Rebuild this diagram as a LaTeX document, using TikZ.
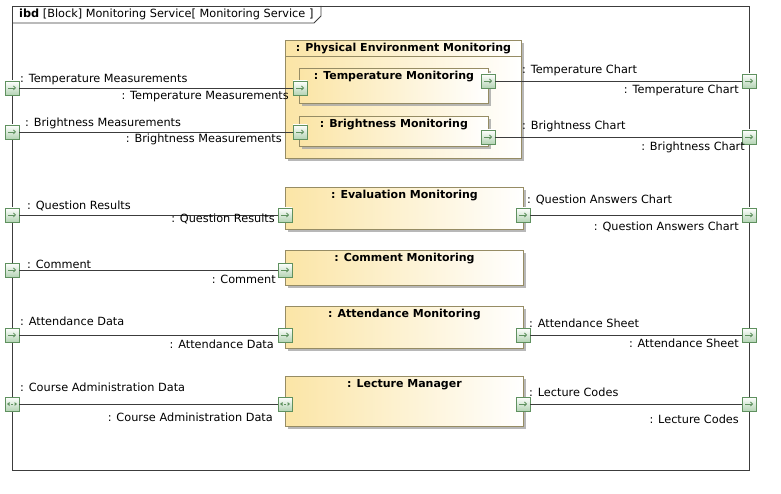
\documentclass[tikz,border=0pt]{standalone}
\usepackage{xcolor}
\usepackage{fontspec}
\setmainfont{DejaVu Sans}
\usetikzlibrary{positioning,shadows,arrows.meta}

\definecolor{blockfill}{RGB}{251,229,166}
\definecolor{blockline}{RGB}{150,140,100}
\definecolor{portline}{RGB}{95,145,95}
\definecolor{portfill}{RGB}{180,212,180}
\definecolor{framegray}{RGB}{60,60,60}

\tikzset{
  lbl/.style={inner sep=0pt, font=\fontsize{11.3}{13}\selectfont},
  ttl/.style={inner sep=1pt, font=\bfseries\fontsize{11}{13}\selectfont},
  block/.style={draw=blockline, line width=0.8pt, left color=blockfill, right color=white, anchor=north west, inner sep=0pt,
    drop shadow={shadow xshift=3pt, shadow yshift=-3pt, fill=black!35, opacity=0.8}},
  port/.style={draw=portline, line width=0.8pt, top color=white, bottom color=portfill, minimum size=14pt, inner sep=0pt},
  inport/.style={port, path picture={\draw[portline, line width=0.8pt, -{Straight Barb[length=2pt,width=4pt]}]
    ([xshift=3pt]path picture bounding box.west) -- ([xshift=-3pt]path picture bounding box.east);}},
  ioport/.style={port, path picture={
    \fill[portline] ([xshift=-5pt]path picture bounding box.center) -- ++(2.5,-2) -- ++(0,4) -- cycle;
    \fill[portline] ([xshift=5pt]path picture bounding box.center) -- ++(-2.5,-2) -- ++(0,4) -- cycle;
    \draw[portline, line width=0.7pt] ([xshift=-1pt]path picture bounding box.center) -- ([xshift=1pt]path picture bounding box.center);}},
  conn/.style={draw=framegray, line width=0.8pt}
}

\begin{document}
\begin{tikzpicture}[x=1pt, y=-1pt]
\useasboundingbox (0,0) rectangle (781,494);

\node[draw=framegray, line width=0.8pt, anchor=north west, minimum width=737pt, minimum height=464pt, inner sep=0pt] (ibd) at (12,6) {};
\node[lbl, anchor=west] (hdr) at (19,14.5) {\textbf{ibd} [Block] Monitoring Service[ Monitoring Service ]};
\draw[framegray, line width=0.8pt] (12,23) -- (314,23) -- (321,16) -- (321,6);

\node[block, minimum width=236pt, minimum height=118pt] (pe) at (285,40) {};
\draw[blockline, line width=0.8pt] ([yshift=-16pt]pe.north west) -- ([yshift=-16pt]pe.north east);
\node[ttl, below=2pt of pe.north] (pet) {: Physical Environment Monitoring};
\node[block, minimum width=189pt, minimum height=35pt] (tm) at (299,68) {};
\node[ttl, below=2pt of tm.north] (tmt) {: Temperature Monitoring};
\node[block, minimum width=189pt, minimum height=30pt] (bm) at (299,116) {};
\node[ttl, below=2pt of bm.north] (bmt) {: Brightness Monitoring};

\node[block, minimum width=238pt, minimum height=42pt] (ev) at (285,187) {};
\node[ttl, below=2pt of ev.north] (evt) {: Evaluation Monitoring};
\node[block, minimum width=238pt, minimum height=35pt] (cm) at (285,250) {};
\node[ttl, below=2pt of cm.north] (cmt) {: Comment Monitoring};
\node[block, minimum width=238pt, minimum height=42pt] (am) at (285,306) {};
\node[ttl, below=2pt of am.north] (amt) {: Attendance Monitoring};
\node[block, minimum width=238pt, minimum height=50pt] (lm) at (285,376) {};
\node[ttl, below=2pt of lm.north] (lmt) {: Lecture Manager};

\node[inport] (fTm) at (12,88) {};
\node[inport] (fBm) at (12,132) {};
\node[inport] (fQr) at (12,215) {};
\node[inport] (fCm) at (12,270) {};
\node[inport] (fAd) at (12,335) {};
\node[ioport] (fCa) at (12,404) {};

\node[inport] (fTc) at (749,81) {};
\node[inport] (fBc) at (749,137) {};
\node[inport] (fQa) at (749,215) {};
\node[inport] (fAs) at (749,335) {};
\node[inport] (fLc) at (749,404) {};

\node[inport] (tmIn) at (300,88) {};
\node[inport] (tmOut) at (488,81) {};
\node[inport] (bmIn) at (300,132) {};
\node[inport] (bmOut) at (488,137) {};
\node[inport] (evIn) at (285,215) {};
\node[inport] (evOut) at (523,215) {};
\node[inport] (cmIn) at (285,270) {};
\node[inport] (amIn) at (285,335) {};
\node[inport] (amOut) at (523,335) {};
\node[ioport] (lmIn) at (285,404) {};
\node[inport] (lmOut) at (523,404) {};

\draw[conn] (fTm) -- (tmIn);
\draw[conn] (fBm) -- (bmIn);
\draw[conn] (tmOut) -- (fTc);
\draw[conn] (bmOut) -- (fBc);
\draw[conn] (fQr) -- (evIn);
\draw[conn] (evOut) -- (fQa);
\draw[conn] (fCm) -- (cmIn);
\draw[conn] (fAd) -- (amIn);
\draw[conn] (amOut) -- (fAs);
\draw[conn] (fCa) -- (lmIn);
\draw[conn] (lmOut) -- (fLc);

\node[lbl, anchor=west] (tm1) at (20,80) {: Temperature Measurements};
\node[lbl, anchor=east] (tm2) at (289,97) {: Temperature Measurements};
\node[lbl, anchor=west] (bm1) at (25,123) {: Brightness Measurements};
\node[lbl, anchor=east] (bm2) at (282,139) {: Brightness Measurements};
\node[lbl, anchor=west] (tc1) at (522,70) {: Temperature Chart};
\node[lbl, anchor=east] (tc2) at (739,90) {: Temperature Chart};
\node[lbl, anchor=west] (bc1) at (522,126) {: Brightness Chart};
\node[lbl, anchor=east] (bc2) at (745,147) {: Brightness Chart};
\node[lbl, anchor=west] (qr1) at (27,206) {: Question Results};
\node[lbl, anchor=east] (qr2) at (275,219) {: Question Results};
\node[lbl, anchor=west] (qa1) at (527,200) {: Question Answers Chart};
\node[lbl, anchor=east] (qa2) at (739,227) {: Question Answers Chart};
\node[lbl, anchor=west] (cm1) at (27,264) {: Comment};
\node[lbl, anchor=east] (cm2) at (276,279) {: Comment};
\node[lbl, anchor=west] (ad1) at (20,321) {: Attendance Data};
\node[lbl, anchor=east] (ad2) at (274,344) {: Attendance Data};
\node[lbl, anchor=west] (as1) at (529,323) {: Attendance Sheet};
\node[lbl, anchor=east] (as2) at (739,343) {: Attendance Sheet};
\node[lbl, anchor=west] (ca1) at (20,387) {: Course Administration Data};
\node[lbl, anchor=east] (ca2) at (273,417) {: Course Administration Data};
\node[lbl, anchor=west] (lc1) at (529,392) {: Lecture Codes};
\node[lbl, anchor=east] (lc2) at (739,419) {: Lecture Codes};

\end{tikzpicture}
\end{document}
